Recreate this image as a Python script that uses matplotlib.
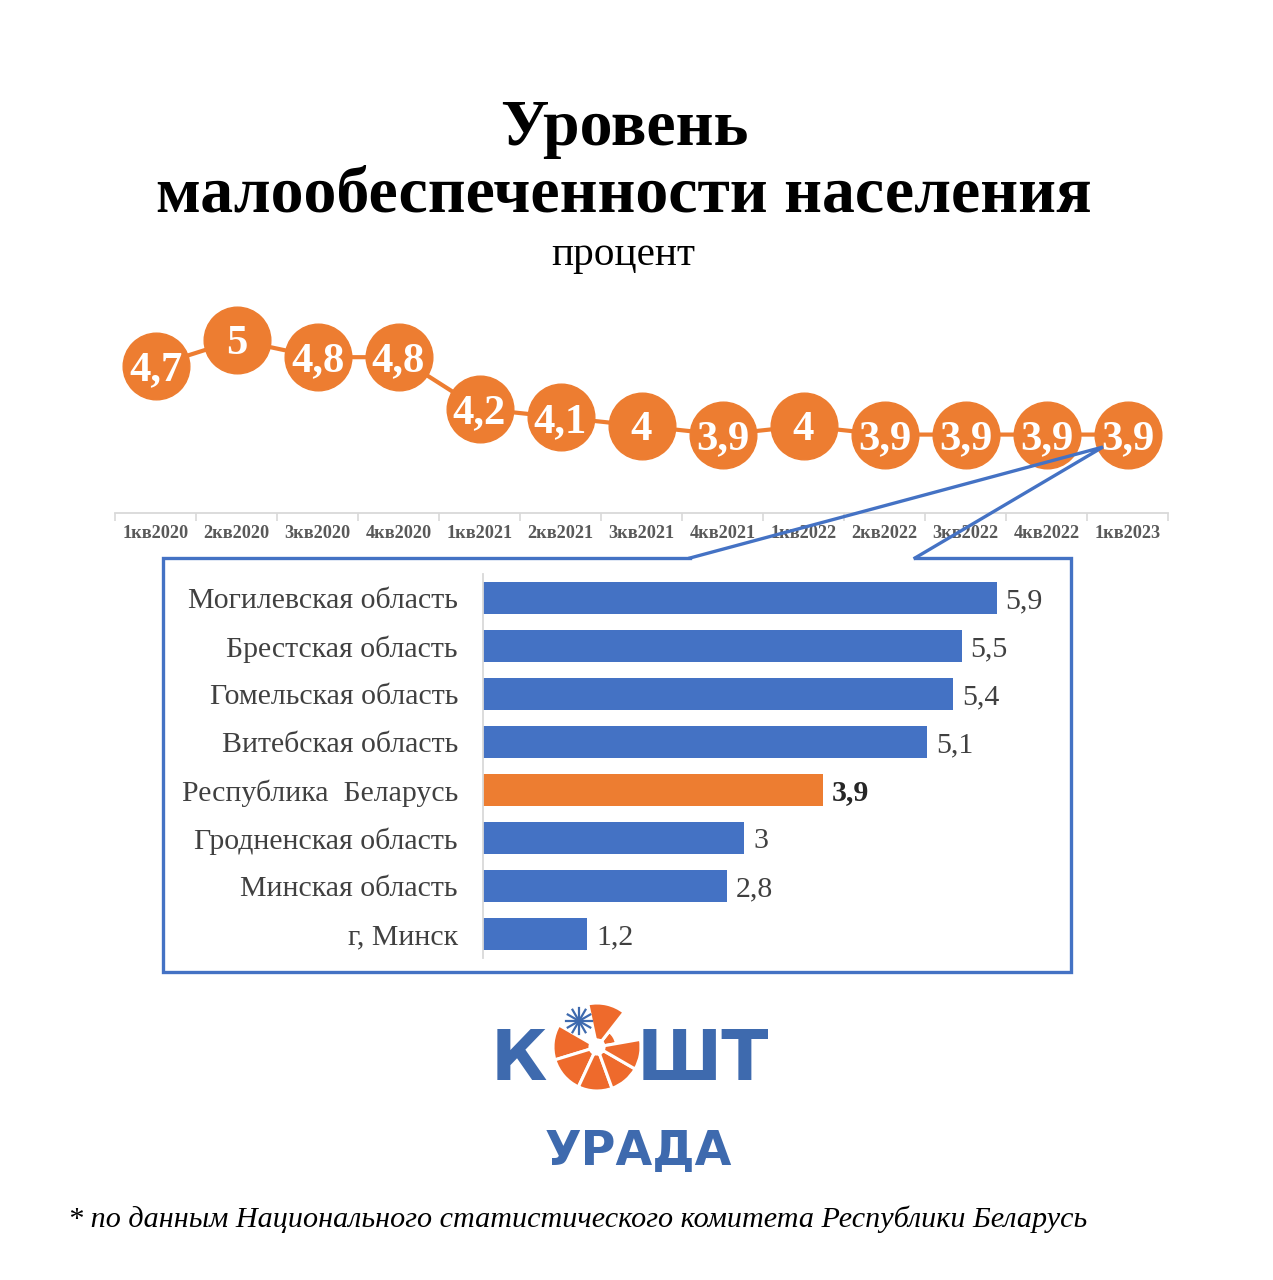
import matplotlib
matplotlib.use('Agg')
import matplotlib.pyplot as plt
from matplotlib.patches import Wedge
from matplotlib.lines import Line2D
import numpy as np

# ---------------- data ----------------
quarters = ['1кв2020', '2кв2020', '3кв2020', '4кв2020', '1кв2021', '2кв2021', '3кв2021',
            '4кв2021', '1кв2022', '2кв2022', '3кв2022', '4кв2022', '1кв2023']
poverty = [4.7, 5.0, 4.8, 4.8, 4.2, 4.1, 4.0, 3.9, 4.0, 3.9, 3.9, 3.9, 3.9]

regions = ['Могилевская область', 'Брестская область', 'Гомельская область',
           'Витебская область', 'Республика  Беларусь', 'Гродненская область',
           'Минская область', 'г, Минск']
region_values = [5.9, 5.5, 5.4, 5.1, 3.9, 3.0, 2.8, 1.2]
highlight = 'Республика  Беларусь'

title1 = 'Уровень'
title2 = 'малообеспеченности населения'
subtitle = 'процент'
footer = '* по данным Национального статистического комитета Республики Беларусь'

# ---------------- style ----------------
W, H = 1273, 1280
SERIF = 'Liberation Serif'
ORANGE = '#ED7D31'
BLUE = '#4472C4'
LOGO_BLUE = '#3E6AAE'
LOGO_ORANGE = '#EE6A2C'

fig = plt.figure(figsize=(W / 100, H / 100), dpi=100)
fig.patch.set_facecolor('white')
renderer = fig.canvas.get_renderer()


def fx(x):
    return x / W


def fy(y):
    return 1 - y / H


def fit_size(s, target_px, **kw):
    t = fig.text(0, 0, s, fontsize=20, **kw)
    w = t.get_window_extent(renderer).width
    t.remove()
    return 20 * target_px / w


def fmt(v):
    return f'{v:g}'.replace('.', ',')


# ---------------- titles ----------------
ts = fit_size(title2, 935, family=SERIF, fontweight='bold')
fig.text(fx(624), fy(145), title1, ha='center', va='baseline', fontsize=ts,
         fontweight='bold', family=SERIF, color='black')
fig.text(fx(624), fy(212), title2, ha='center', va='baseline', fontsize=ts,
         fontweight='bold', family=SERIF, color='black')
ss = fit_size(subtitle, 144, family=SERIF)
fig.text(fx(623), fy(265), subtitle, ha='center', va='baseline', fontsize=ss,
         family=SERIF, color='black')

# ---------------- line chart ----------------
ax = fig.add_axes([fx(115), fy(513), fx(1168) - fx(115), fy(300) - fy(513)])
ax.patch.set_alpha(0)
x = np.arange(len(quarters))
ax.plot(x, poverty, color=ORANGE, lw=3, marker='o', ms=48, mfc=ORANGE, mec=ORANGE,
        clip_on=False, zorder=3)
ms_fs = fit_size('4,8', 53, family=SERIF, fontweight='bold')
for xi, v in zip(x, poverty):
    ax.text(xi, v, fmt(v), ha='center', va='center_baseline', color='white',
            fontsize=ms_fs, fontweight='bold', family=SERIF, zorder=4)
ax.set_xlim(-0.5, len(quarters) - 0.5)
ax.set_ylim(2.988, 5.465)
for s in ['top', 'left', 'right']:
    ax.spines[s].set_visible(False)
ax.spines['bottom'].set_color('#D9D9D9')
ax.spines['bottom'].set_linewidth(1.3)
ax.set_yticks([])
xt_fs = fit_size('1кв2020', 66, family=SERIF, fontweight='bold')
ax.set_xticks(x)
ax.set_xticklabels(quarters, fontsize=xt_fs, fontweight='bold', family=SERIF, color='#595959')
ax.set_xticks(np.arange(-0.5, len(quarters), 1), minor=True)
ax.tick_params(axis='x', which='major', length=0, pad=9)
ax.tick_params(axis='x', which='minor', length=6, color='#D9D9D9', width=1.2)

# ---------------- bar chart ----------------
bx = fig.add_axes([fx(483), fy(958), fx(1049) - fx(483), fy(574) - fy(958)])
bx.patch.set_alpha(0)
yy = np.arange(len(regions))
colors = [ORANGE if r == highlight else BLUE for r in regions]
bx.barh(yy, region_values, height=0.67, color=colors)
bx.set_ylim(len(regions) - 0.5, -0.5)
bx.set_xlim(0, 6.5)
cat_fs = fit_size(regions[0], 270, family=SERIF)
bx.set_yticks(yy)
bx.set_yticklabels(regions, fontsize=cat_fs, family=SERIF, color='#404040')
bx.tick_params(axis='y', length=0, pad=18)
bx.set_xticks([])
for s in ['top', 'bottom', 'right']:
    bx.spines[s].set_visible(False)
bx.spines['left'].set_color('#D9D9D9')
bx.spines['left'].set_linewidth(1.3)
for yi, v, r in zip(yy, region_values, regions):
    if r == highlight:
        bx.text(v + 0.1, yi, fmt(v), ha='left', va='center_baseline', fontsize=cat_fs,
                family=SERIF, fontweight='bold', color='#262626')
    else:
        bx.text(v + 0.1, yi, fmt(v), ha='left', va='center_baseline', fontsize=cat_fs,
                family=SERIF, color='#404040')

# ---------------- overlay: callout box, logo, footer ----------------
ov = fig.add_axes([0, 0, 1, 1], zorder=5)
ov.set_xlim(0, W)
ov.set_ylim(0, H)
ov.axis('off')
ov.patch.set_alpha(0)

box_x = [690, 163, 163, 1071, 1071, 915]
box_y = [558, 558, 972, 972, 558, 558]
ov.add_line(Line2D(box_x, [H - v for v in box_y], color=BLUE, lw=2.4,
                   solid_joinstyle='miter'))
apex = (1103, 447)
ov.add_line(Line2D([690, apex[0], 915], [H - 558, H - apex[1], H - 558],
                   color=BLUE, lw=2.4, solid_joinstyle='miter'))

# logo
cx, cy, R = 597, H - 1047, 44
segs = [(10, 52, 0.45), (52, 102, 1.0), (150, 197, 1.0), (197, 245, 1.0),
        (245, 290, 1.0), (290, 330, 1.0), (330, 370, 1.0)]
for t1, t2, rf in segs:
    r = R * rf
    ov.add_patch(Wedge((cx, cy), r, t1, t2, width=r - R * 0.16,
                       facecolor=LOGO_ORANGE, edgecolor='white', lw=2.2))
# snowflake
sfx, sfy, sr = cx - 18, cy + 26, 13
for ang in np.deg2rad(np.arange(0, 180, 30)):
    dx, dy = sr * np.cos(ang), sr * np.sin(ang)
    ov.add_line(Line2D([sfx - dx, sfx + dx], [sfy - dy, sfy + dy], color=LOGO_BLUE, lw=1.6))

lg_fs = fit_size('ШТ', 132, family='DejaVu Sans', fontweight='bold')
ov.text(547, H - 1080, 'К', ha='right', va='baseline', fontsize=lg_fs,
        family='DejaVu Sans', fontweight='bold', color=LOGO_BLUE)
ov.text(637, H - 1080, 'ШТ', ha='left', va='baseline', fontsize=lg_fs,
        family='DejaVu Sans', fontweight='bold', color=LOGO_BLUE)
ur_fs = fit_size('УРАДА', 187, family='DejaVu Sans', fontweight='bold')
ov.text(638, H - 1165, 'УРАДА', ha='center', va='baseline', fontsize=ur_fs,
        family='DejaVu Sans', fontweight='bold', color=LOGO_BLUE)

ft_fs = fit_size(footer, 1017, family=SERIF, style='italic')
ov.text(68, H - 1227, footer, ha='left', va='baseline', fontsize=ft_fs,
        family=SERIF, style='italic', color='black')

fig.savefig('out.png', dpi=100, facecolor='white')
